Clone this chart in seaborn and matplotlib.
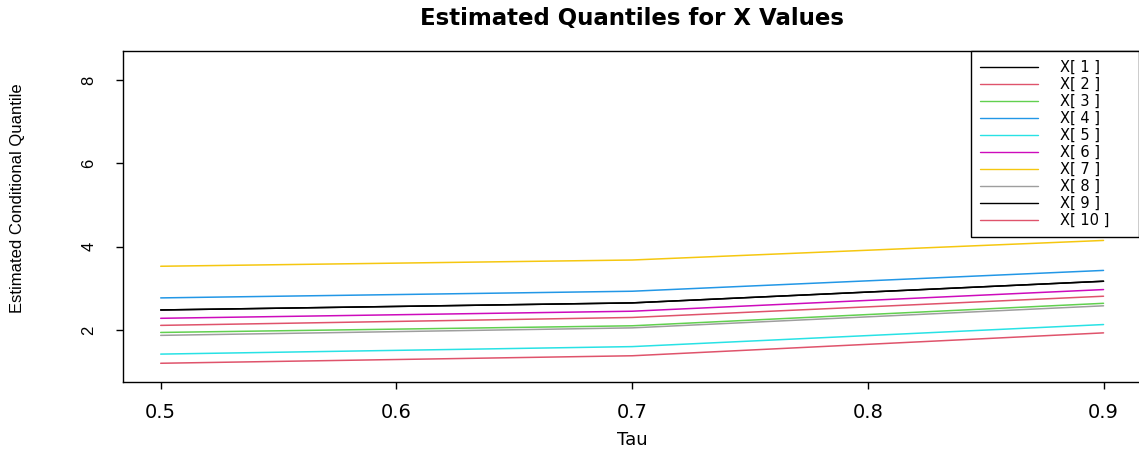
import matplotlib
matplotlib.use("Agg")
import matplotlib.pyplot as plt
from matplotlib.lines import Line2D
import numpy as np
import pandas as pd
import seaborn as sns

# Quantile levels
tau = [0.5, 0.7, 0.9]

# Estimated conditional quantiles for each X value
x1 = [2.48, 2.65, 3.17]
x2 = [1.20, 1.38, 1.93]
x3 = [1.94, 2.10, 2.64]
x4 = [2.77, 2.93, 3.43]
x5 = [1.42, 1.60, 2.13]
x6 = [2.28, 2.45, 2.97]
x7 = [3.53, 3.68, 4.15]
x8 = [1.87, 2.05, 2.58]
x9 = [2.48, 2.65, 3.17]
x10 = [2.11, 2.30, 2.81]

labels = ["X[ %d ]" % i for i in range(1, 11)]
series = [x1, x2, x3, x4, x5, x6, x7, x8, x9, x10]
colors = ["black", "#DF536B", "#61D04F", "#2297E6", "#28E2E5",
          "#CD0BBC", "#F5C710", "#9E9E9E", "black", "#DF536B"]

x_ticks = [0.5, 0.6, 0.7, 0.8, 0.9]
y_ticks = [2, 4, 6, 8]

df = pd.DataFrame({
    "tau": np.tile(tau, len(series)),
    "quantile": np.concatenate(series),
    "series": np.repeat(labels, len(tau)),
})

sns.set_style("ticks")
plt.rcParams["font.family"] = ["DejaVu Sans"]
plt.rcParams["text.color"] = "black"
plt.rcParams["axes.labelcolor"] = "black"
plt.rcParams["xtick.color"] = "black"
plt.rcParams["ytick.color"] = "black"

W, H = 1139, 453
fig = plt.figure(figsize=(W / 100, H / 100), dpi=100)
ax = fig.add_axes([123 / W, 1 - 382 / H, (1145 - 123) / W, (382 - 51) / H])

sns.lineplot(data=df, x="tau", y="quantile", hue="series", hue_order=labels,
             palette=colors, estimator=None, sort=False, linewidth=1.1,
             legend=False, ax=ax)

ax.set_xlim(0.484, 0.9176)
ax.set_ylim(0.75, 8.70)
ax.set_xticks(x_ticks)
ax.set_xticklabels(["%.1f" % t for t in x_ticks])
ax.set_yticks(y_ticks)
ax.set_yticklabels([str(t) for t in y_ticks], rotation=90, va="center",
                   family="Liberation Sans", fontsize=12)
ax.tick_params(axis="x", length=5, width=1, pad=10, labelsize=14)
ax.tick_params(axis="y", length=5, width=1, pad=14)
ax.set_xlabel("")
ax.set_ylabel("")
for s in ax.spines.values():
    s.set_visible(True)
    s.set_color("black")
    s.set_linewidth(1.0)

fig.text(632 / W, 1 - 18 / H, "Estimated Quantiles for X Values",
         ha="center", va="center", fontsize=16.5, fontweight="bold")
fig.text(632 / W, 1 - 440 / H, "Tau", ha="center", va="center", fontsize=13)
fig.text(18 / W, 1 - 198 / H, "Estimated Conditional Quantile", rotation=90,
         ha="center", va="center", fontsize=12, family="Liberation Sans")

handles = [Line2D([], [], color=c, lw=1.0) for c in colors]
leg = ax.legend(handles, labels, loc="upper left", mode="expand",
                bbox_to_anchor=(971 / W, 1 - 238 / H, 168 / W, 187 / H),
                bbox_transform=fig.transFigure,
                borderaxespad=0, fontsize=10.5, handlelength=4.0, handletextpad=1.5,
                labelspacing=0.14, borderpad=0.6, fancybox=False, framealpha=1,
                edgecolor="black")
leg.get_frame().set_linewidth(1.0)

fig.savefig("out.png", dpi=100)
